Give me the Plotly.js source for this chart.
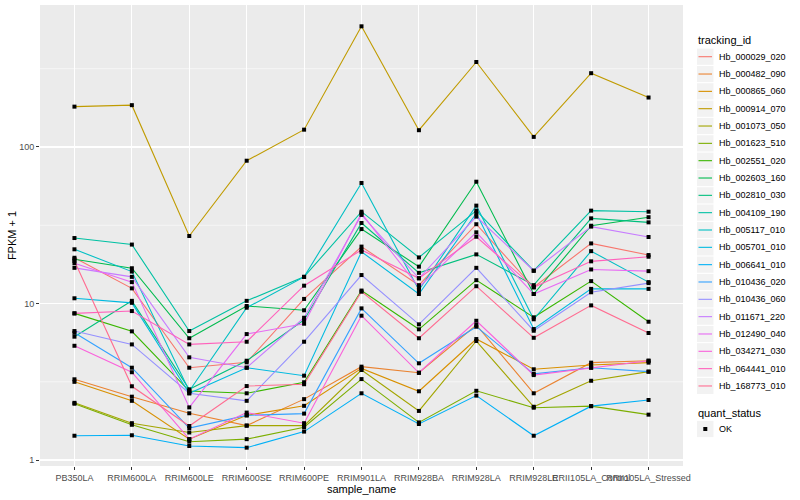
<!DOCTYPE html>
<html><head><meta charset="utf-8">
<script src="https://cdn.plot.ly/plotly-3.0.1.min.js"></script>
<style>html,body{margin:0;padding:0;background:#fff}#chart{width:800px;height:500px}</style>
</head><body><div id="chart"></div>
<script>
const samples = ["PB350LA","RRIM600LA","RRIM600LE","RRIM600SE","RRIM600PE","RRIM901LA","RRIM928BA","RRIM928LA","RRIM928LE","RRII105LA_Control","RRII105LA_Stressed"];
const trackingIds = ["Hb_000029_020","Hb_000482_090","Hb_000865_060","Hb_000914_070","Hb_001073_050","Hb_001623_510","Hb_002551_020","Hb_002603_160","Hb_002810_030","Hb_004109_190","Hb_005117_010","Hb_005701_010","Hb_006641_010","Hb_010436_020","Hb_010436_060","Hb_011671_220","Hb_012490_040","Hb_034271_030","Hb_064441_010","Hb_168773_010"];
const seriesColors = ["#F8766D","#EA8331","#D89000","#C09B00","#A3A500","#7CAE00","#39B600","#00BB4E","#00BF7D","#00C1A3","#00BFC4","#00BAE0","#00B0F6","#35A2FF","#9590FF","#C77CFF","#E76BF3","#FA62DB","#FF62BC","#FF6C91"];

const Hb_000029_020 = [19.6, 12.5, 3.89, 4.21, 10.7, 23.1, 13.1, 32.1, 12.7, 24.2, 20.4];
const Hb_000482_090 = [3.28, 2.54, 1.99, 1.66, 2.45, 3.95, 3.61, 7.29, 2.67, 4.19, 4.31];
const Hb_000865_060 = [3.16, 2.39, 1.36, 1.93, 2.22, 3.85, 2.75, 5.93, 3.80, 4.05, 4.19];
const Hb_000914_070 = [181, 185, 27.0, 81.7, 129, 590, 128, 349, 116, 296, 207];
const Hb_001073_050 = [2.32, 1.72, 1.50, 1.66, 1.66, 3.76, 2.06, 5.76, 2.19, 3.21, 3.67];
const Hb_001623_510 = [2.29, 1.68, 1.31, 1.36, 1.62, 3.29, 1.74, 2.77, 2.16, 2.21, 1.95];
const Hb_002551_020 = [8.65, 6.64, 2.76, 2.67, 3.14, 12.1, 6.84, 14.1, 8.16, 13.9, 7.65];
const Hb_002603_160 = [19.2, 16.8, 6.0, 9.64, 9.05, 29.9, 17.2, 60.0, 11.5, 31.4, 35.6];
const Hb_002810_030 = [6.14, 10.4, 2.83, 4.31, 7.85, 32.7, 15.7, 20.6, 13.1, 35.0, 33.0];
const Hb_004109_190 = [26.2, 23.8, 6.67, 10.4, 14.8, 38.6, 19.7, 39.2, 16.2, 39.2, 38.6];
const Hb_005117_010 = [22.2, 16.0, 2.76, 9.40, 14.8, 58.9, 12.2, 42.2, 7.93, 21.6, 13.7];
const Hb_005701_010 = [10.8, 10.1, 2.67, 3.89, 3.46, 21.4, 11.5, 37.7, 6.87, 12.4, 12.4];
const Hb_006641_010 = [1.43, 1.44, 1.23, 1.20, 1.52, 2.67, 1.70, 2.58, 1.43, 2.21, 2.42];
const Hb_010436_020 = [6.5, 3.89, 1.60, 1.93, 1.98, 9.31, 4.15, 7.11, 3.55, 3.89, 3.67];
const Hb_010436_060 = [6.67, 5.48, 2.67, 2.39, 5.70, 15.2, 7.36, 16.9, 6.70, 11.8, 13.5];
const Hb_011671_220 = [16.9, 14.8, 4.53, 3.89, 8.11, 36.8, 14.5, 35.9, 16.2, 31.0, 26.6];
const Hb_012490_040 = [18.1, 13.7, 2.17, 6.38, 7.43, 37.7, 12.7, 28.5, 11.5, 16.5, 16.1];
const Hb_034271_030 = [5.37, 3.64, 1.36, 2.01, 1.72, 8.36, 3.61, 7.76, 3.49, 3.89, 4.31];
const Hb_064441_010 = [8.65, 8.95, 5.48, 5.70, 13.0, 22.0, 14.5, 26.7, 12.7, 18.6, 19.9];
const Hb_168773_010 = [18.7, 2.96, 1.65, 2.97, 3.05, 11.9, 6.0, 12.9, 6.04, 9.73, 6.48];

const seriesValues = [Hb_000029_020, Hb_000482_090, Hb_000865_060, Hb_000914_070, Hb_001073_050, Hb_001623_510, Hb_002551_020, Hb_002603_160, Hb_002810_030, Hb_004109_190, Hb_005117_010, Hb_005701_010, Hb_006641_010, Hb_010436_020, Hb_010436_060, Hb_011671_220, Hb_012490_040, Hb_034271_030, Hb_064441_010, Hb_168773_010];
const quantStatus = "OK";
const yTickVals = [1, 10, 100];
const yTickText = ["1", "10", "100"];
const yMinorVals = [3.1623, 31.623, 316.23];

const traces = seriesValues.map((vals, i) => ({
  type: "scatter", mode: "lines", x: samples, y: vals, name: trackingIds[i],
  line: { color: seriesColors[i], width: 1.1 }, hoverinfo: "skip", showlegend: false
}));
traces.push({
  type: "scatter", mode: "markers",
  x: seriesValues.flatMap(() => samples), y: seriesValues.flat(),
  name: quantStatus, showlegend: false,
  marker: { symbol: "square", color: "black", size: 4 }, hoverinfo: "skip"
});

// plot-area geometry in pixels (layout only)
const PL = 40, PR = 683, PT = 5, PB = 466;
const px = v => (v - PL) / (PR - PL);
const py = v => (PB - v) / (PB - PT);

const shapes = yMinorVals.map(v => ({
  type: "line", xref: "paper", yref: "y", x0: 0, x1: 1, y0: v, y1: v,
  line: { color: "white", width: 0.55 }, layer: "below"
}));
const annotations = [];

// custom legend (ggplot style keys)
const keyX0 = 697, keyX1 = 713.5, textX = 717, firstY = 56.7, stepY = 17.33;
annotations.push({ xref: "paper", yref: "paper", x: px(696), y: py(40.5), xanchor: "left", yanchor: "middle",
  text: "tracking_id", showarrow: false, font: { size: 11, color: "black" } });
trackingIds.forEach((id, i) => {
  const cy = firstY + stepY * i;
  shapes.push({ type: "rect", xref: "paper", yref: "paper", x0: px(keyX0), x1: px(keyX1),
    y0: py(cy + 8.1), y1: py(cy - 8.1), fillcolor: "#F2F2F2", line: { width: 0 } });
  shapes.push({ type: "line", xref: "paper", yref: "paper", x0: px(keyX0 + 1.5), x1: px(keyX1 - 1.5),
    y0: py(cy), y1: py(cy), line: { color: seriesColors[i], width: 1.1 } });
  annotations.push({ xref: "paper", yref: "paper", x: px(textX), y: py(cy), xanchor: "left", yanchor: "middle",
    text: id, showarrow: false, font: { size: 9, color: "black" } });
});
annotations.push({ xref: "paper", yref: "paper", x: px(696), y: py(412.5), xanchor: "left", yanchor: "middle",
  text: "quant_status", showarrow: false, font: { size: 11, color: "black" } });
const okY = 429;
shapes.push({ type: "rect", xref: "paper", yref: "paper", x0: px(keyX0), x1: px(keyX1),
  y0: py(okY + 8.1), y1: py(okY - 8.1), fillcolor: "#F2F2F2", line: { width: 0 } });
shapes.push({ type: "rect", xref: "paper", yref: "paper", x0: px(703.3), x1: px(707.3),
  y0: py(okY + 2), y1: py(okY - 2), fillcolor: "black", line: { width: 0 } });
annotations.push({ xref: "paper", yref: "paper", x: px(textX), y: py(okY), xanchor: "left", yanchor: "middle",
  text: quantStatus, showarrow: false, font: { size: 9, color: "black" } });

const layout = {
  width: 800, height: 500,
  margin: { l: PL, r: 800 - PR, t: PT, b: 500 - PB, pad: 0 },
  paper_bgcolor: "white", plot_bgcolor: "#EBEBEB",
  font: { family: "Liberation Sans, Arial, sans-serif", color: "#4D4D4D", size: 9 },
  showlegend: false,
  xaxis: {
    type: "category", categoryorder: "array", categoryarray: samples,
    range: [-0.6, 10.6], showgrid: true, gridcolor: "white", gridwidth: 1.1,
    ticks: "outside", ticklen: 3, tickcolor: "#333333", tickangle: 0,
    tickfont: { size: 9, color: "#4D4D4D" }, zeroline: false, showline: false,
    automargin: false, fixedrange: true,
    title: { text: "sample_name", font: { size: 11, color: "black" }, standoff: 3 }
  },
  yaxis: {
    type: "log", range: [-0.038, 2.907], tickvals: yTickVals, ticktext: yTickText,
    showgrid: true, gridcolor: "white", gridwidth: 1.1,
    ticks: "outside", ticklen: 3, tickcolor: "#333333",
    tickfont: { size: 9, color: "#4D4D4D" }, zeroline: false, showline: false,
    automargin: false, fixedrange: true,
    title: { text: "FPKM + 1", font: { size: 11, color: "black" }, standoff: 0 }
  },
  shapes: shapes,
  annotations: annotations
};
Plotly.newPlot("chart", traces, layout, { staticPlot: true, displayModeBar: false });
</script>
</body></html>
